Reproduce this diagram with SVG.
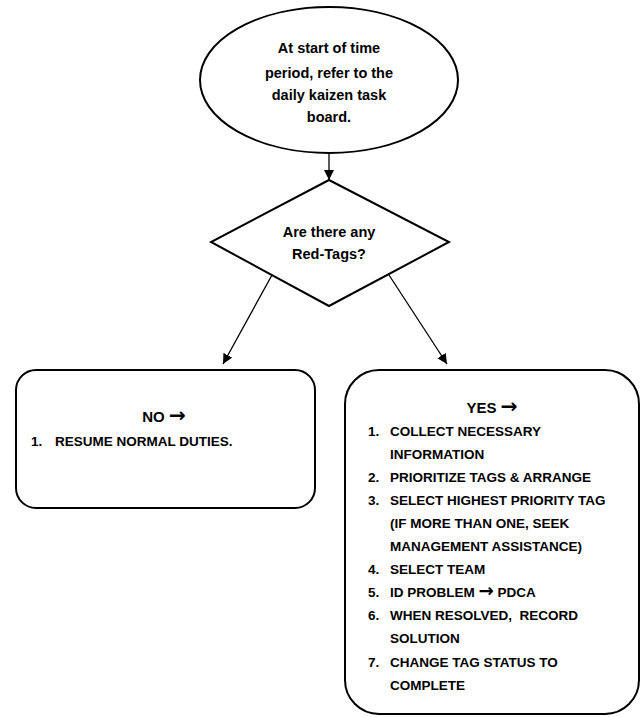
<svg xmlns="http://www.w3.org/2000/svg" width="643" height="717" viewBox="0 0 643 717">
<defs>
<style>
.s{fill:#fff;stroke:#000;stroke-width:2}
.t{font-family:"Liberation Sans",Arial,sans-serif;font-weight:bold;font-size:13.5px;fill:#000;white-space:pre}
.b{font-size:14.5px}
.c{text-anchor:middle}
.ar{font-family:"DejaVu Sans",sans-serif;font-weight:bold;font-size:1.35em}
.l{fill:none;stroke:#000;stroke-width:1.3}
</style>
<marker id="a" viewBox="0 0 10 10" refX="10" refY="5" markerWidth="10" markerHeight="10" markerUnits="userSpaceOnUse" orient="auto">
<path d="M0,0 L10,5 L0,10 z" fill="#000"/>
</marker>
</defs>
<rect width="643" height="717" fill="#fff"/>
<g id="connectors">
<line class="l" x1="329" y1="153" x2="329" y2="180" marker-end="url(#a)"/>
<line class="l" x1="272" y1="275" x2="223" y2="364" marker-end="url(#a)"/>
<line class="l" x1="389" y1="275" x2="447" y2="364" marker-end="url(#a)"/>
</g>
<g id="start">
<ellipse class="s" cx="329" cy="80" rx="129" ry="73"/>
<text class="t b c" x="329" y="53">At start of time</text>
<text class="t b c" x="329" y="78">period, refer to the</text>
<text class="t b c" x="329" y="100">daily kaizen task</text>
<text class="t b c" x="329" y="122">board.</text>
</g>
<g id="decision">
<polygon class="s" points="329,180 449,242 329,306 211,242"/>
<text class="t b c" x="329" y="237">Are there any</text>
<text class="t b c" x="329" y="259">Red-Tags?</text>
</g>
<g id="no">
<rect class="s" x="16" y="370" width="299" height="138" rx="20"/>
<text class="t c" x="164" y="422" style="font-size:15px">NO <tspan class="ar">→</tspan></text>
<text class="t" x="31" y="446">1.</text>
<text class="t" x="55" y="446">RESUME NORMAL DUTIES.</text>
</g>
<g id="yes">
<rect class="s" x="345" y="370" width="294" height="344" rx="34"/>
<text class="t c" x="492" y="413" style="font-size:15px">YES <tspan class="ar">→</tspan></text>
<g class="t">
<text x="368" y="436">1.</text><text x="390" y="436">COLLECT NECESSARY</text>
<text x="390" y="459">INFORMATION</text>
<text x="368" y="482">2.</text><text x="390" y="482">PRIORITIZE TAGS &amp; ARRANGE</text>
<text x="368" y="505">3.</text><text x="390" y="505">SELECT HIGHEST PRIORITY TAG</text>
<text x="390" y="528">(IF MORE THAN ONE, SEEK</text>
<text x="390" y="551">MANAGEMENT ASSISTANCE)</text>
<text x="368" y="574">4.</text><text x="390" y="574">SELECT TEAM</text>
<text x="368" y="597">5.</text><text x="390" y="597">ID PROBLEM <tspan class="ar">→</tspan> PDCA</text>
<text x="368" y="620">6.</text><text x="390" y="620" xml:space="preserve">WHEN RESOLVED,  RECORD</text>
<text x="390" y="643">SOLUTION</text>
<text x="368" y="667">7.</text><text x="390" y="667">CHANGE TAG STATUS TO</text>
<text x="390" y="690">COMPLETE</text>
</g>
</g>
</svg>
